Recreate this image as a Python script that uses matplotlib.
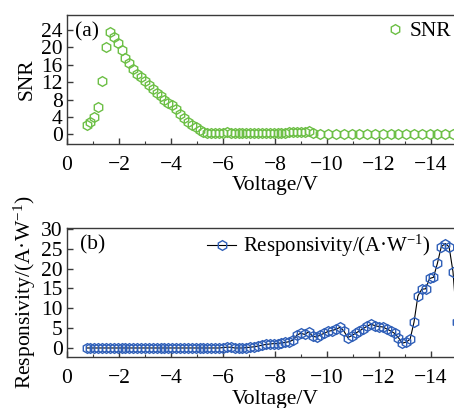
import matplotlib
matplotlib.use("Agg")
import matplotlib.pyplot as plt
from matplotlib.ticker import MultipleLocator

# SNR sweep: 0.15 V steps down to -9.45 V, then 0.3 V steps
snr_volts = [
    -0.75, -0.9, -1.05, -1.2, -1.35, -1.5, -1.65, -1.8, -1.95, -2.1,
    -2.25, -2.4, -2.55, -2.7, -2.85, -3.0, -3.15, -3.3, -3.45, -3.6,
    -3.75, -3.9, -4.05, -4.2, -4.35, -4.5, -4.65, -4.8, -4.95, -5.1,
    -5.25, -5.4, -5.55, -5.7, -5.85, -6.0, -6.15, -6.3, -6.45, -6.6,
    -6.75, -6.9, -7.05, -7.2, -7.35, -7.5, -7.65, -7.8, -7.95, -8.1,
    -8.25, -8.4, -8.55, -8.7, -8.85, -9.0, -9.15, -9.3, -9.45,
    -9.75, -10.05, -10.35, -10.65, -10.95, -11.25, -11.55, -11.85, -12.15, -12.45,
    -12.75, -13.05, -13.35, -13.65, -13.95, -14.25, -14.55, -14.85, -15.15,
]
snr = [
    2.1, 2.9, 3.9, 6.3, 12.2, 20.0, 23.5, 22.3, 21.0, 19.3,
    17.6, 16.3, 15.0, 13.9, 13.1, 12.3, 11.3, 10.4, 9.6, 8.8,
    8.0, 7.3, 6.7, 5.8, 4.6, 3.7, 2.9, 2.2, 1.6, 1.0,
    0.6, 0.4, 0.3, 0.3, 0.2, 0.3, 0.5, 0.3, 0.2, 0.2,
    0.2, 0.2, 0.2, 0.3, 0.3, 0.2, 0.2, 0.3, 0.3, 0.2,
    0.3, 0.3, 0.5, 0.6, 0.5, 0.5, 0.6, 0.7, 0.2,
    0.1, 0.1, 0.1, 0.1, 0.1, 0.1, 0.1, 0.1, 0.1, 0.1,
    0.1, 0.1, 0.1, 0.1, 0.1, 0.1, 0.1, 0.1, 0.1,
]

# Responsivity sweep: 0.15 V steps
resp_volts = [
    -0.75, -0.9, -1.05, -1.2, -1.35, -1.5, -1.65, -1.8, -1.95, -2.1,
    -2.25, -2.4, -2.55, -2.7, -2.85, -3.0, -3.15, -3.3, -3.45, -3.6,
    -3.75, -3.9, -4.05, -4.2, -4.35, -4.5, -4.65, -4.8, -4.95, -5.1,
    -5.25, -5.4, -5.55, -5.7, -5.85, -6.0, -6.15, -6.3, -6.45, -6.6,
    -6.75, -6.9, -7.05, -7.2, -7.35, -7.5, -7.65, -7.8, -7.95, -8.1,
    -8.25, -8.4, -8.55, -8.7, -8.85, -9.0, -9.15, -9.3, -9.45, -9.6,
    -9.75, -9.9, -10.05, -10.2, -10.35, -10.5, -10.65, -10.8, -10.95, -11.1,
    -11.25, -11.4, -11.55, -11.7, -11.85, -12.0, -12.15, -12.3, -12.45, -12.6,
    -12.75, -12.9, -13.05, -13.2, -13.35, -13.5, -13.65, -13.8, -13.95, -14.1,
    -14.25, -14.4, -14.55, -14.7, -14.85, -15.0,
]
resp = [
    0.0, 0.0, 0.0, 0.0, 0.0, 0.0, 0.0, 0.0, 0.0, 0.0,
    0.0, 0.0, 0.0, 0.0, 0.0, 0.0, 0.0, 0.0, 0.0, 0.0,
    0.0, 0.0, 0.0, 0.0, 0.0, 0.0, 0.0, 0.0, 0.0, 0.0,
    0.0, 0.0, 0.0, 0.0, 0.0, 0.1, 0.2, 0.2, 0.0, 0.0,
    0.0, 0.1, 0.2, 0.3, 0.5, 0.7, 0.9, 1.0, 1.1, 1.1,
    1.3, 1.4, 1.6, 2.0, 3.3, 3.7, 3.4, 4.1, 2.9, 2.8,
    3.3, 3.7, 4.2, 4.4, 4.7, 5.2, 4.3, 2.6, 3.1, 3.7,
    4.3, 4.9, 5.5, 6.0, 5.6, 5.4, 5.3, 4.8, 4.3, 3.7,
    2.6, 1.2, 1.5, 2.2, 6.5, 13.1, 14.8, 14.9, 17.5, 17.8,
    21.3, 25.5, 26.3, 25.5, 19.2, 6.6,
]

x_ticks = [0, -2, -4, -6, -8, -10, -12, -14]

GREEN = "#6cbf45"
BLUE = "#2f5fb8"
SPINE = "#3a3a3a"
FS = 15.5

plt.rcParams.update({
    "font.family": "Liberation Serif",
    "font.size": FS,
    "mathtext.fontset": "custom",
    "mathtext.rm": "Liberation Serif",
    "mathtext.it": "Liberation Serif:italic",
    "axes.edgecolor": SPINE,
    "axes.linewidth": 1.0,
})

fig = plt.figure(figsize=(4.54, 4.08), dpi=100)
# axes run past the right edge, as in the cropped original
ax1 = fig.add_axes([0.1476, 0.647, 0.916, 0.316])
ax2 = fig.add_axes([0.1476, 0.125, 0.916, 0.316])

ax1.plot(snr_volts, snr, linestyle="none", marker="h", ms=7,
         mfc="none", mec=GREEN, mew=1.0, label="SNR")
ax2.plot(resp_volts, resp, color="black", lw=0.8, marker="h", ms=7,
         mfc="none", mec=BLUE, mew=1.0, label="Responsivity/(A·W$^{-1}$)")

for ax in (ax1, ax2):
    ax.set_xlim(0, -16)
    ax.set_xticks(x_ticks)
    ax.xaxis.set_minor_locator(MultipleLocator(1))
    ax.tick_params(which="both", direction="in", top=False, right=False,
                   color=SPINE, labelsize=FS)
    ax.tick_params(axis="x", which="major", length=4, width=1.0, pad=8.5)
    ax.tick_params(axis="x", which="minor", length=2.5, width=0.8)
    ax.tick_params(axis="y", which="major", length=4, width=1.0, pad=3)

ax1.set_xlabel("Voltage/V", labelpad=1)
ax1.set_ylim(-2.23, 27.4)
ax1.set_yticks([0, 4, 8, 12, 16, 20, 24])
ax1.set_ylabel("SNR", labelpad=3)
ax1.text(0.019, 0.868, "(a)", transform=ax1.transAxes, ha="left", va="center")
ax1.legend(loc="center left", bbox_to_anchor=(0.767, 0.876), frameon=False,
           borderpad=0, borderaxespad=0, handlelength=0.8, handletextpad=0.3)

ax2.set_xlabel("Voltage/V", labelpad=1.5)
ax2.set_ylim(-2.27, 30.2)
ax2.set_yticks([0, 5, 10, 15, 20, 25, 30])
ax2.set_ylabel("Responsivity/(A·W$^{-1}$)", labelpad=2)
ax2.text(0.031, 0.868, "(b)", transform=ax2.transAxes, ha="left", va="center")
ax2.legend(loc="center left", bbox_to_anchor=(0.337, 0.86), frameon=False,
           borderpad=0, borderaxespad=0, handlelength=1.4, handletextpad=0.3,
           fontsize=15)

fig.savefig("out.png", dpi=100)
